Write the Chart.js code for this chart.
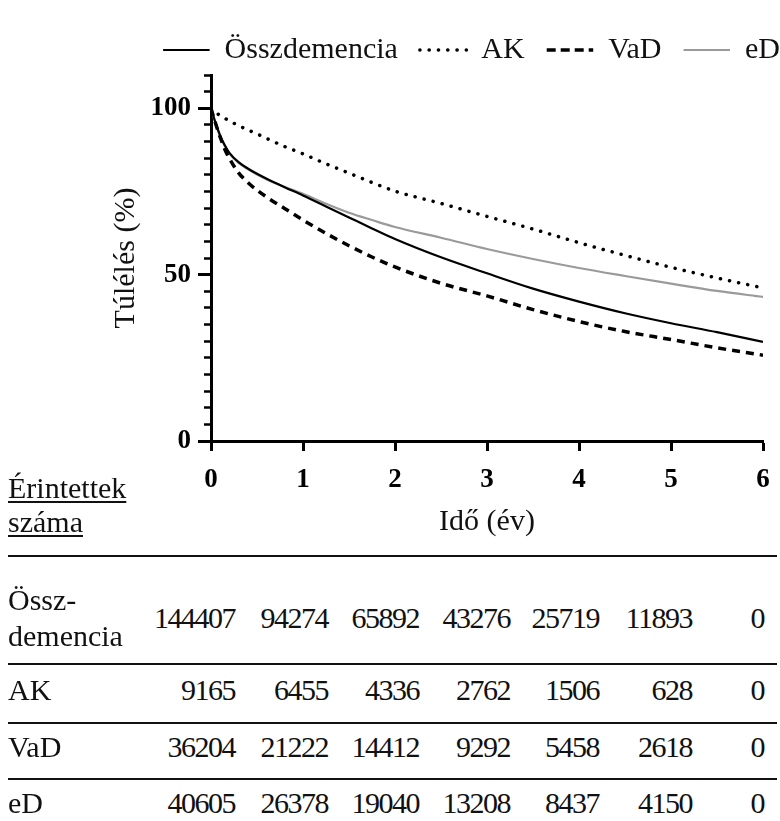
<!DOCTYPE html>
<html>
<head>
<meta charset="utf-8">
<script src="https://cdn.jsdelivr.net/npm/chart.js@4.4.1/dist/chart.umd.min.js"></script>
<style>
    body { margin: 0; background: #fff; }
    #wrap { position: relative; width: 780px; height: 821px; overflow: hidden; font-family: "Liberation Serif", "Times New Roman", serif; color: #111; }
    #survivalChart { position: absolute; left: 0; top: 0; }
    .txt { position: absolute; font-size: 30px; line-height: 36px; white-space: nowrap; }
    .u { text-decoration: underline; text-decoration-thickness: 1.5px; text-underline-offset: 3px; }
    .rule { position: absolute; left: 8px; width: 769px; height: 2px; background: #111; }
    .num { text-align: right; letter-spacing: -1.5px; }
</style>
</head>
<body>
<div id="wrap">
    <canvas id="survivalChart" width="780" height="545"></canvas>
    <div class="txt u" style="left:8px; top:470px;">Érintettek</div>
    <div class="txt u" style="left:8px; top:504px;">száma</div>
    <div id="riskTable"></div>
</div>
<script>
// idő (év) és túlélés (%) – leolvasva a görbékről
const years = [0, 0.05, 0.1, 0.15, 0.2, 0.3, 0.4, 0.5, 0.6, 0.8, 1.0, 1.25, 1.5, 1.75, 2.0, 2.5, 3.0, 3.5, 4.0, 4.5, 5.0, 5.5, 6.0];
const osszdemencia = [100, 95.6, 91.8, 88.9, 86.6, 83.8, 81.9, 80.3, 78.9, 76.3, 73.8, 70.5, 67.2, 63.9, 60.7, 55.2, 50.4, 45.8, 41.9, 38.4, 35.4, 32.7, 29.8];
const ak = [100, 98.8, 97.8, 97.0, 96.2, 94.8, 93.5, 92.3, 91.0, 88.5, 86.3, 83.3, 80.5, 77.7, 75.1, 71.4, 67.5, 63.7, 59.6, 55.8, 52.2, 49.0, 46.0];
const vad = [100, 95.4, 91.3, 87.7, 84.9, 80.6, 77.7, 75.4, 73.4, 69.9, 66.4, 62.4, 58.7, 55.3, 52.3, 47.4, 43.6, 39.5, 35.9, 32.9, 30.5, 28.0, 25.8];
const ed = [100, 95.4, 91.5, 88.6, 86.4, 83.6, 81.7, 80.1, 78.7, 76.4, 74.3, 71.3, 68.6, 66.4, 64.3, 61.1, 57.7, 54.7, 52.0, 49.6, 47.3, 45.1, 43.3];

const xTickValues = [0, 1, 2, 3, 4, 5, 6];
const yTickValues = [0, 50, 100];

// érintettek száma
const riskOssz = [144407, 94274, 65892, 43276, 25719, 11893, 0];
const riskAk = [9165, 6455, 4336, 2762, 1506, 628, 0];
const riskVad = [36204, 21222, 14412, 9292, 5458, 2618, 0];
const riskEd = [40605, 26378, 19040, 13208, 8437, 4150, 0];

const serif = "'Liberation Serif', 'Times New Roman', serif";
const toPoints = vals => vals.map((v, i) => ({ x: years[i], y: v }));

const lineBase = { pointRadius: 0, pointHoverRadius: 0, cubicInterpolationMode: "monotone", fill: false, backgroundColor: "transparent" };

new Chart(document.getElementById("survivalChart"), {
    type: "line",
    data: {
        datasets: [
            { ...lineBase, label: "Összdemencia", data: toPoints(osszdemencia), borderColor: "#000", borderWidth: 2.2 },
            { ...lineBase, label: "AK", data: toPoints(ak), borderColor: "#000", borderWidth: 3.5, borderDash: [0.1, 9.2], borderCapStyle: "round" },
            { ...lineBase, label: "VaD", data: toPoints(vad), borderColor: "#000", borderWidth: 3.5, borderDash: [8, 6] },
            { ...lineBase, label: "eD", data: toPoints(ed), borderColor: "#9a9a9a", borderWidth: 2.2 }
        ]
    },
    options: {
        responsive: false,
        animation: false,
        events: [],
        layout: { padding: { left: 0, right: -22, top: -3, bottom: 4 } },
        plugins: {
            tooltip: { enabled: false },
            legend: {
                position: "top",
                align: "end",
                labels: {
                    boxWidth: 46.5,
                    boxHeight: 0,
                    padding: 22,
                    color: "#111",
                    font: { family: serif, size: 30 }
                }
            }
        },
        scales: {
            x: {
                type: "linear",
                min: 0,
                max: 6,
                afterBuildTicks: s => { s.ticks = xTickValues.map(v => ({ value: v })); },
                afterFit: s => { s.height = 100; s.paddingRight = 17; },
                grid: { drawOnChartArea: false, tickLength: 10, tickWidth: 3, tickColor: "#000" },
                border: { color: "#000", width: 3 },
                ticks: { color: "#000", padding: 13, maxRotation: 0, font: { family: serif, size: 27, weight: "bold" } },
                title: { display: true, text: "Idő (év)", color: "#111", padding: { top: 0, bottom: 1 }, font: { family: serif, size: 30 } }
            },
            y: {
                type: "linear",
                position: "left",
                weight: 0,
                min: 0,
                max: 110,
                afterFit: s => { s.width = 0; },
                grid: { drawOnChartArea: false, tickLength: 7, tickWidth: 2.5, tickColor: "#000" },
                border: { display: false },
                ticks: { display: false, stepSize: 5 }
            },
            yMajor: {
                type: "linear",
                position: "left",
                weight: 1,
                min: 0,
                max: 110,
                afterBuildTicks: s => { s.ticks = yTickValues.map(v => ({ value: v })); },
                afterFit: s => { s.width = 211; s.paddingTop = 75; },
                grid: { drawOnChartArea: false, tickLength: 13, tickWidth: 3, tickColor: "#000" },
                border: { color: "#000", width: 3 },
                ticks: { color: "#000", padding: 7, font: { family: serif, size: 27, weight: "bold" } },
                title: { display: true, text: "Túlélés (%)", color: "#111", padding: { top: 108, bottom: 0 }, font: { family: serif, size: 30 } }
            }
        }
    }
});

// táblázat az érintettek számával
const riskRows = [
    { label: ["Össz-", "demencia"], values: riskOssz },
    { label: ["AK"], values: riskAk },
    { label: ["VaD"], values: riskVad },
    { label: ["eD"], values: riskEd }
];
const rowCenters = [618, 690, 747, 803];
const ruleTops = [555, 663, 722, 778];
const colRight = [235, 328, 419, 510, 599, 692, 764];

const table = document.getElementById("riskTable");
ruleTops.forEach(top => {
    const rule = document.createElement("div");
    rule.className = "rule";
    rule.style.top = top + "px";
    table.appendChild(rule);
});
riskRows.forEach((row, r) => {
    const c = rowCenters[r];
    const lab = document.createElement("div");
    lab.className = "txt";
    lab.style.left = "8px";
    lab.style.top = (c - 18 * row.label.length) + "px";
    lab.innerHTML = row.label.join("<br>");
    table.appendChild(lab);
    row.values.forEach((v, i) => {
        const cell = document.createElement("div");
        cell.className = "txt num";
        cell.style.right = (780 - colRight[i]) + "px";
        cell.style.top = (c - 18) + "px";
        cell.textContent = v;
        table.appendChild(cell);
    });
});
</script>
</body>
</html>
